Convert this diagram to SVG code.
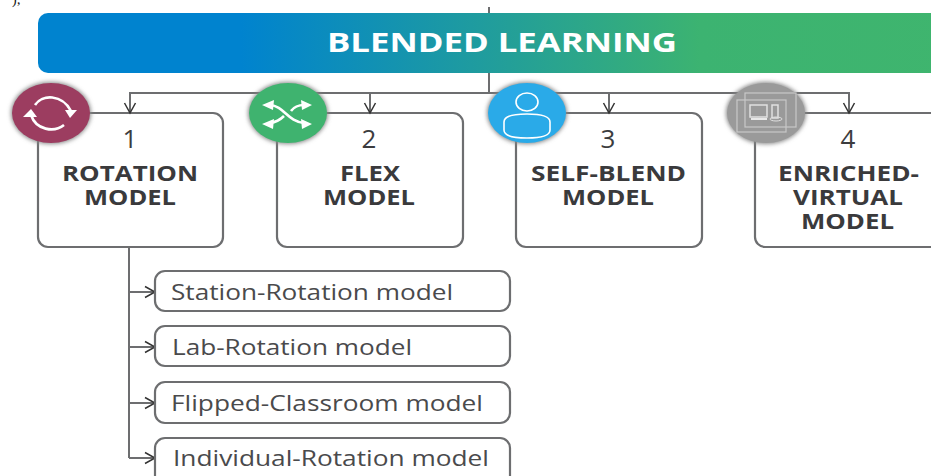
<svg xmlns="http://www.w3.org/2000/svg" width="931" height="476" viewBox="0 0 931 476">
<style>
.box{fill:#fff;stroke:#6d6e70;stroke-width:2.2}
.sub{fill:#fff;stroke:#6d6e70;stroke-width:2.2}
.line{fill:none;stroke:#6d6e70;stroke-width:2}
.num{font:26px "Open Sans","Noto Sans",sans-serif;fill:#3c3c3e;text-anchor:middle}
.t{font:700 22px "Open Sans","Noto Sans",sans-serif;fill:#3a3a3c;text-anchor:middle}
.s{font:21.5px "Open Sans","Noto Sans",sans-serif;fill:#4a4a4c}
.ic{fill:none;stroke:#fff;stroke-width:2.6}
.ig{fill:none;stroke:#c9c9c9;stroke-width:1.2}
.sd{fill:#888;filter:url(#sh)}
</style>
<defs>
<linearGradient id="g" x1="0" x2="1" y1="0" y2="0">
<stop offset="0" stop-color="#0083cf"/><stop offset="0.22" stop-color="#0083cf"/><stop offset="0.72" stop-color="#3cb371"/><stop offset="1" stop-color="#3fb56e"/>
</linearGradient>
<marker id="a" markerUnits="userSpaceOnUse" markerWidth="14" markerHeight="14" refX="12" refY="7" orient="auto" viewBox="0 0 14 14"><path d="M2 1.5 L12 7 L2 12.5" fill="none" stroke="#333" stroke-width="1.5"/></marker>
<filter id="sh" x="-20%" y="-20%" width="140%" height="140%"><feGaussianBlur stdDeviation="2"/></filter>
</defs>
<rect width="931" height="476" fill="#fff"/>
<text x="12" y="4" font-family="Liberation Serif,serif" font-size="14" fill="#111">);</text>
<g id="header">
<rect x="38" y="13" width="920" height="60" rx="10" fill="url(#g)"/>
<text x="502" y="52" font-family="Open Sans,Noto Sans,sans-serif" font-weight="700" font-size="27.5" fill="#fff" text-anchor="middle" textLength="350" lengthAdjust="spacingAndGlyphs">BLENDED LEARNING</text>
</g>
<g id="node-1">
<rect class="box" x="38" y="113" width="185" height="134" rx="10"/>
<text class="num" x="130" y="148">1</text>
<text class="t" x="130" y="181" textLength="136" lengthAdjust="spacingAndGlyphs">ROTATION</text><text class="t" x="130" y="205" textLength="92" lengthAdjust="spacingAndGlyphs">MODEL</text>
</g>
<g id="node-2">
<rect class="box" x="277" y="113" width="186" height="134" rx="10"/>
<text class="num" x="369" y="148">2</text>
<text class="t" x="370" y="181" textLength="60" lengthAdjust="spacingAndGlyphs">FLEX</text><text class="t" x="369" y="205" textLength="92" lengthAdjust="spacingAndGlyphs">MODEL</text>
</g>
<g id="node-3">
<rect class="box" x="516" y="113" width="186" height="134" rx="10"/>
<text class="num" x="608" y="148">3</text>
<text class="t" x="608.500" y="181" textLength="155" lengthAdjust="spacingAndGlyphs">SELF-BLEND</text><text class="t" x="608" y="205" textLength="92" lengthAdjust="spacingAndGlyphs">MODEL</text>
</g>
<g id="node-4">
<rect class="box" x="755" y="113" width="190" height="134" rx="10"/>
<text class="num" x="848" y="148">4</text>
<text class="t" x="848.500" y="181" textLength="141" lengthAdjust="spacingAndGlyphs">ENRICHED-</text><text class="t" x="848" y="205" textLength="110" lengthAdjust="spacingAndGlyphs">VIRTUAL</text><text class="t" x="847.500" y="229" textLength="93" lengthAdjust="spacingAndGlyphs">MODEL</text>
</g>
<g id="connectors">
<path class="line" d="M489 7V13M489 73V93M130 93H849"/>
<path class="line" marker-end="url(#a)" d="M130 92V113"/>
<path class="line" marker-end="url(#a)" d="M370 92V113"/>
<path class="line" marker-end="url(#a)" d="M609 92V113"/>
<path class="line" marker-end="url(#a)" d="M849 92V113"/>
<path class="line" d="M129 247V458"/>
<path class="line" marker-end="url(#a)" d="M129 292H155"/>
<path class="line" marker-end="url(#a)" d="M129 347H155"/>
<path class="line" marker-end="url(#a)" d="M129 403H155"/>
<path class="line" marker-end="url(#a)" d="M129 458H155"/>
</g>
<g id="icon-1">
<ellipse class="sd" cx="51" cy="113" rx="40" ry="31"/>
<ellipse cx="51" cy="113" rx="39" ry="30" fill="#9c3d60"/>
<path class="ic" d="M35 105 C42 94 62 94 71 111M64 125 C54 133 36 130 31 115"/>
<path d="M65 110 L77 110 L70 118 Z M23 117 L37 117 L31 109 Z" fill="#fff"/>
</g>
<g id="icon-2">
<ellipse class="sd" cx="288" cy="113" rx="40" ry="31"/>
<ellipse cx="288" cy="113" rx="39" ry="30" fill="#3fb36f"/>
<path class="ic" d="M270 105 C284 106 288 122 304 123M270 123 C277 122 281 119 284 116M291 111 C294 107 298 105 304 105"/>
<path d="M262 105 L274 100 L273 110 Z M312 105 L301 100 L302 110 Z M262 124 L274 119 L273 129 Z M312 124 L301 119 L302 129 Z" fill="#fff"/>
</g>
<g id="icon-3">
<ellipse class="sd" cx="527" cy="113" rx="40" ry="31"/>
<ellipse cx="527" cy="113" rx="39" ry="30" fill="#2aaae8"/>
<ellipse cx="527" cy="102" rx="11" ry="9" fill="none" stroke="#fff" stroke-width="1.6"/>
<path fill="none" stroke="#fff" stroke-width="1.6" d="M504 122 C504 116 512 114 527 114 C542 114 550 116 550 122 V130 C550 136 542 138 527 138 C512 138 504 136 504 130 Z"/>
</g>
<g id="icon-4">
<ellipse class="sd" cx="766" cy="113" rx="40" ry="31"/>
<ellipse cx="766" cy="113" rx="39" ry="30" fill="#9a9a9a"/>
<rect class="ig" x="737" y="100" width="49" height="32"/>
<rect class="ig" x="745" y="93" width="51" height="34"/>
<rect x="750" y="105" width="17" height="12" fill="none" stroke="#e0e0e0" stroke-width="1.5"/>
<rect x="772" y="105" width="6" height="13" fill="none" stroke="#e0e0e0" stroke-width="1.5"/>
<path d="M751 119 H767" stroke="#e8e8e8" stroke-width="2" fill="none"/>
<ellipse cx="776" cy="119" rx="6" ry="2" fill="none" stroke="#e0e0e0"/>
</g>
<g id="sub-1">
<rect class="sub" x="155" y="271" width="355" height="40" rx="10"/>
<text class="s" x="171" y="300" textLength="282" lengthAdjust="spacingAndGlyphs">Station-Rotation model</text>
</g>
<g id="sub-2">
<rect class="sub" x="155" y="326" width="355" height="40" rx="10"/>
<text class="s" x="172" y="355" textLength="240" lengthAdjust="spacingAndGlyphs">Lab-Rotation model</text>
</g>
<g id="sub-3">
<rect class="sub" x="155" y="382" width="355" height="41" rx="10"/>
<text class="s" x="171" y="411" textLength="312" lengthAdjust="spacingAndGlyphs">Flipped-Classroom model</text>
</g>
<g id="sub-4">
<rect class="sub" x="155" y="438" width="355" height="48" rx="10"/>
<text class="s" x="173" y="466" textLength="316" lengthAdjust="spacingAndGlyphs">Individual-Rotation model</text>
</g>
</svg>
